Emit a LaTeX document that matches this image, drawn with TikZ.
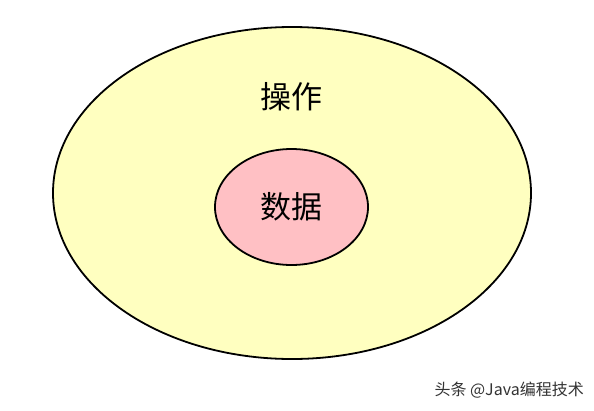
\documentclass[tikz,border=0pt]{standalone}
\usepackage{fontspec}
\setmainfont{Noto Sans CJK SC}
\usetikzlibrary{shapes.geometric}
\definecolor{outerfill}{HTML}{FFFFC0}
\definecolor{innerfill}{HTML}{FFC0C4}
\definecolor{wmark}{HTML}{333333}
\tikzset{
  blob/.style={ellipse, draw=black, line width=1.8pt, inner sep=0pt},
  label/.style={font=\fontsize{31}{33}\selectfont, text=black, inner sep=0pt},
}
\begin{document}
\begin{tikzpicture}[x=1pt,y=-1pt]
\useasboundingbox[fill=white] (0,0) rectangle (594,410);
\node[blob, fill=outerfill, minimum width=478pt, minimum height=332pt] (outer) at (292,193) {};
\node[blob, fill=innerfill, minimum width=153pt, minimum height=116pt] (inner) at (291.5,207) {};
\node[label] (op) at (291,97) {操作};
\node[label] (data) at (291,207) {数据};
\node[font=\fontsize{16}{17}\selectfont, text=wmark, inner sep=0pt, anchor=east] (wm) at (584,390) {头条 @Java编程技术};
\end{tikzpicture}
\end{document}
